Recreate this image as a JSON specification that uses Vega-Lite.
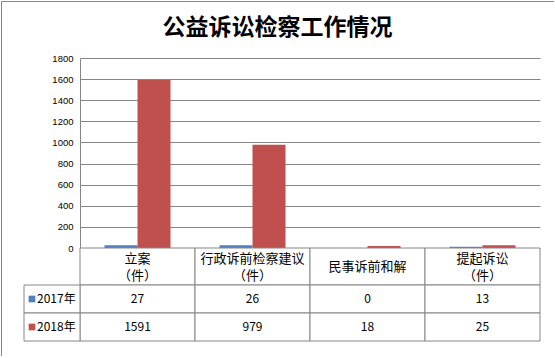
{
  "$schema": "https://vega.github.io/schema/vega-lite/v6.json",
  "width": 553,
  "height": 355,
  "autosize": "none",
  "padding": {"left": 1, "top": 1, "right": 0, "bottom": 0},
  "background": "white",
  "config": {
    "view": {"stroke": "#888888", "fill": "white"},
    "text": {"font": "Noto Sans CJK SC", "color": "black"}
  },
  "title": {
    "text": "公益诉讼检察工作情况",
    "font": "Noto Sans CJK SC",
    "fontSize": 23,
    "fontWeight": "bold",
    "color": "black",
    "anchor": "middle",
    "frame": "group",
    "offset": -62,
    "baseline": "bottom"
  },
  "datasets": {
    "bars": [
      {"cat": "立案（件）", "year": "2017年", "value": 27},
      {"cat": "立案（件）", "year": "2018年", "value": 1591},
      {"cat": "行政诉前检察建议（件）", "year": "2017年", "value": 26},
      {"cat": "行政诉前检察建议（件）", "year": "2018年", "value": 979},
      {"cat": "民事诉前和解", "year": "2017年", "value": 0},
      {"cat": "民事诉前和解", "year": "2018年", "value": 18},
      {"cat": "提起诉讼（件）", "year": "2017年", "value": 13},
      {"cat": "提起诉讼（件）", "year": "2018年", "value": 25}
    ],
    "headers": [
      {"cat": "立案（件）", "label": "立案\n（件）"},
      {"cat": "行政诉前检察建议（件）", "label": "行政诉前检察建议\n（件）"},
      {"cat": "民事诉前和解", "label": "民事诉前和解"},
      {"cat": "提起诉讼（件）", "label": "提起诉讼\n（件）"}
    ],
    "years": [{"year": "2017年"}, {"year": "2018年"}]
  },
  "resolve": {"scale": {"x": "independent", "y": "independent", "color": "independent", "xOffset": "independent"}},
  "layer": [
    {
      "data": {"name": "bars"},
      "mark": {"type": "bar"},
      "encoding": {
        "x": {"field": "cat", "type": "nominal", "sort": null,
              "scale": {"domain": ["立案（件）", "行政诉前检察建议（件）", "民事诉前和解", "提起诉讼（件）"], "range": [79, 539], "paddingInner": 0, "paddingOuter": 0},
              "axis": null},
        "xOffset": {"field": "year", "type": "nominal",
                    "scale": {"domain": ["2017年", "2018年"], "paddingInner": 0, "paddingOuter": 0.742}},
        "y": {"field": "value", "type": "quantitative",
              "scale": {"domain": [0, 1800], "range": [247, 57], "nice": false, "zero": true},
              "axis": {"orient": "left", "offset": -79, "values": [0, 200, 400, 600, 800, 1000, 1200, 1400, 1600, 1800],
                       "format": "d",
                       "grid": true, "gridColor": "#868686", "gridOpacity": 1, "domain": true, "domainColor": "#868686",
                       "ticks": false, "labelPadding": 7, "labelFont": "Liberation Sans", "labelFontSize": 9.5,
                       "labelColor": "black", "title": null}},
        "color": {"field": "year", "type": "nominal",
                  "scale": {"domain": ["2017年", "2018年"], "range": ["#4F81BD", "#C0504D"]}, "legend": null}
      }
    },
    {
      "data": {"name": "headers"},
      "mark": {"type": "rect", "fill": "white", "stroke": "#868686", "strokeWidth": 1},
      "encoding": {
        "x": {"field": "cat", "type": "nominal",
              "scale": {"domain": ["立案（件）", "行政诉前检察建议（件）", "民事诉前和解", "提起诉讼（件）"], "range": [79, 539], "paddingInner": 0, "paddingOuter": 0},
              "axis": null},
        "y": {"datum": "header", "type": "nominal",
              "scale": {"domain": ["header"], "range": [247, 284], "paddingInner": 0, "paddingOuter": 0}, "axis": null}
      }
    },
    {
      "data": {"name": "headers"},
      "transform": [{"filter": "test(/\\n/, datum.label)"}],
      "mark": {"type": "text", "fontSize": 13, "lineBreak": "\n", "lineHeight": 17, "baseline": "middle", "align": "center", "dy": -8},
      "encoding": {
        "x": {"field": "cat", "type": "nominal",
              "scale": {"domain": ["立案（件）", "行政诉前检察建议（件）", "民事诉前和解", "提起诉讼（件）"], "range": [79, 539], "paddingInner": 0, "paddingOuter": 0},
              "axis": null},
        "y": {"datum": "header", "type": "nominal",
              "scale": {"domain": ["header"], "range": [247, 284], "paddingInner": 0, "paddingOuter": 0}, "axis": null},
        "text": {"field": "label"}
      }
    },
    {
      "data": {"name": "headers"},
      "transform": [{"filter": "!test(/\\n/, datum.label)"}],
      "mark": {"type": "text", "fontSize": 13, "baseline": "middle", "align": "center"},
      "encoding": {
        "x": {"field": "cat", "type": "nominal",
              "scale": {"domain": ["立案（件）", "行政诉前检察建议（件）", "民事诉前和解", "提起诉讼（件）"], "range": [79, 539], "paddingInner": 0, "paddingOuter": 0},
              "axis": null},
        "y": {"datum": "header", "type": "nominal",
              "scale": {"domain": ["header"], "range": [247, 284], "paddingInner": 0, "paddingOuter": 0}, "axis": null},
        "text": {"field": "label"}
      }
    },
    {
      "data": {"name": "bars"},
      "mark": {"type": "rect", "fill": "white", "stroke": "#868686", "strokeWidth": 1},
      "encoding": {
        "x": {"field": "cat", "type": "nominal",
              "scale": {"domain": ["立案（件）", "行政诉前检察建议（件）", "民事诉前和解", "提起诉讼（件）"], "range": [79, 539], "paddingInner": 0, "paddingOuter": 0},
              "axis": null},
        "y": {"field": "year", "type": "nominal",
              "scale": {"domain": ["2017年", "2018年"], "range": [284, 340], "paddingInner": 0, "paddingOuter": 0}, "axis": null}
      }
    },
    {
      "data": {"name": "bars"},
      "mark": {"type": "text", "fontSize": 12, "baseline": "middle", "align": "center"},
      "encoding": {
        "x": {"field": "cat", "type": "nominal",
              "scale": {"domain": ["立案（件）", "行政诉前检察建议（件）", "民事诉前和解", "提起诉讼（件）"], "range": [79, 539], "paddingInner": 0, "paddingOuter": 0},
              "axis": null},
        "y": {"field": "year", "type": "nominal",
              "scale": {"domain": ["2017年", "2018年"], "range": [284, 340], "paddingInner": 0, "paddingOuter": 0}, "axis": null},
        "text": {"field": "value", "type": "quantitative", "format": "d"}
      }
    },
    {
      "data": {"name": "years"},
      "mark": {"type": "rect", "fill": "white", "stroke": "#868686", "strokeWidth": 1},
      "encoding": {
        "x": {"datum": "legend", "type": "nominal",
              "scale": {"domain": ["legend"], "range": [23, 79], "paddingInner": 0, "paddingOuter": 0}, "axis": null},
        "y": {"field": "year", "type": "nominal",
              "scale": {"domain": ["2017年", "2018年"], "range": [284, 340], "paddingInner": 0, "paddingOuter": 0}, "axis": null}
      }
    },
    {
      "data": {"name": "years"},
      "mark": {"type": "point", "shape": "square", "filled": true, "size": 45, "opacity": 1, "xOffset": -20},
      "encoding": {
        "x": {"datum": "legend", "type": "nominal",
              "scale": {"domain": ["legend"], "range": [23, 79], "paddingInner": 0, "paddingOuter": 0}, "axis": null},
        "y": {"field": "year", "type": "nominal",
              "scale": {"domain": ["2017年", "2018年"], "range": [284, 340], "paddingInner": 0, "paddingOuter": 0}, "axis": null},
        "color": {"field": "year", "type": "nominal",
                  "scale": {"domain": ["2017年", "2018年"], "range": ["#4F81BD", "#C0504D"]}, "legend": null}
      }
    },
    {
      "data": {"name": "years"},
      "mark": {"type": "text", "fontSize": 12, "baseline": "middle", "align": "left", "dx": -15},
      "encoding": {
        "x": {"datum": "legend", "type": "nominal",
              "scale": {"domain": ["legend"], "range": [23, 79], "paddingInner": 0, "paddingOuter": 0}, "axis": null},
        "y": {"field": "year", "type": "nominal",
              "scale": {"domain": ["2017年", "2018年"], "range": [284, 340], "paddingInner": 0, "paddingOuter": 0}, "axis": null},
        "text": {"field": "year"}
      }
    }
  ]
}
